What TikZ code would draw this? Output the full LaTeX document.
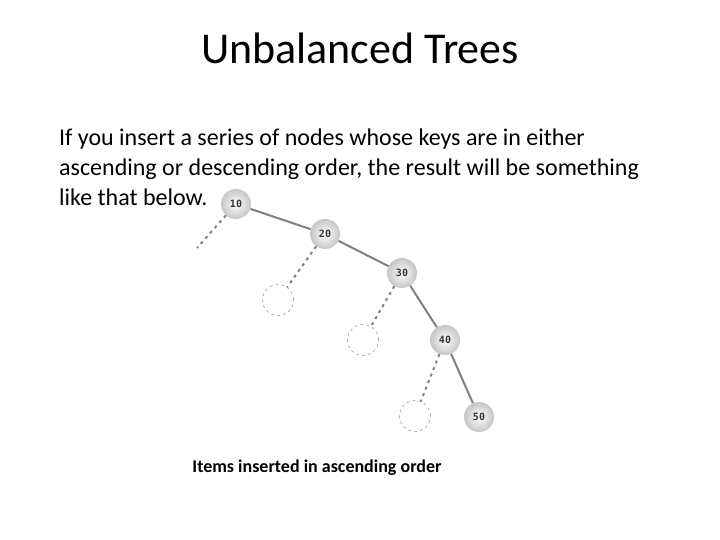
\documentclass[tikz,border=0pt]{standalone}
\usepackage{fontspec}
\setmainfont{Carlito}
\newfontfamily\keyfont{DejaVu Sans Mono}
\usetikzlibrary{positioning}

\begin{document}
\begin{tikzpicture}[
        x=1pt, y=-1pt,
        key/.style={circle, minimum size=30pt, inner sep=0pt, inner color=white, outer color=gray!45, font=\keyfont\bfseries\fontsize{10}{10}\selectfont, text=black!80},
        empty/.style={circle, draw=gray, dashed, minimum size=31pt, inner sep=0pt},
        link/.style={draw=gray, line width=2pt},
        nolink/.style={draw=gray, line width=2pt, dash pattern=on 3pt off 4pt}
    ]
    \useasboundingbox (0,0) rectangle (720,540);

    \node[font=\fontsize{44}{46}\selectfont] (title) at (360,48) {Unbalanced Trees};
    \node[anchor=north west, align=left, inner sep=0pt, font=\fontsize{24}{30}\selectfont] (text) at (59,129)
        {If you insert a series of nodes whose keys are in either\\
         ascending or descending order, the result will be something\\
         like that below.};

    \node[key] (k10) at (236,204) {10};
    \node[key] (k20) at (325,234) {20};
    \node[key] (k30) at (402,273) {30};
    \node[key] (k40) at (445,340) {40};
    \node[key] (k50) at (479,417) {50};

    \node[empty] (e20) at (278,300) {};
    \node[empty] (e30) at (363,340) {};
    \node[empty] (e40) at (415,416) {};
    \coordinate (e10) at (197,248);

    \draw[link] (k10) -- (k20);
    \draw[link] (k20) -- (k30);
    \draw[link] (k30) -- (k40);
    \draw[link] (k40) -- (k50);

    \draw[nolink] (k10) -- (e10);
    \draw[nolink] (k20) -- (e20);
    \draw[nolink] (k30) -- (e30);
    \draw[nolink] (k40) -- (e40);

    \node[font=\bfseries\fontsize{18}{20}\selectfont] (caption) at (317,468) {Items inserted in ascending order};
\end{tikzpicture}
\end{document}
